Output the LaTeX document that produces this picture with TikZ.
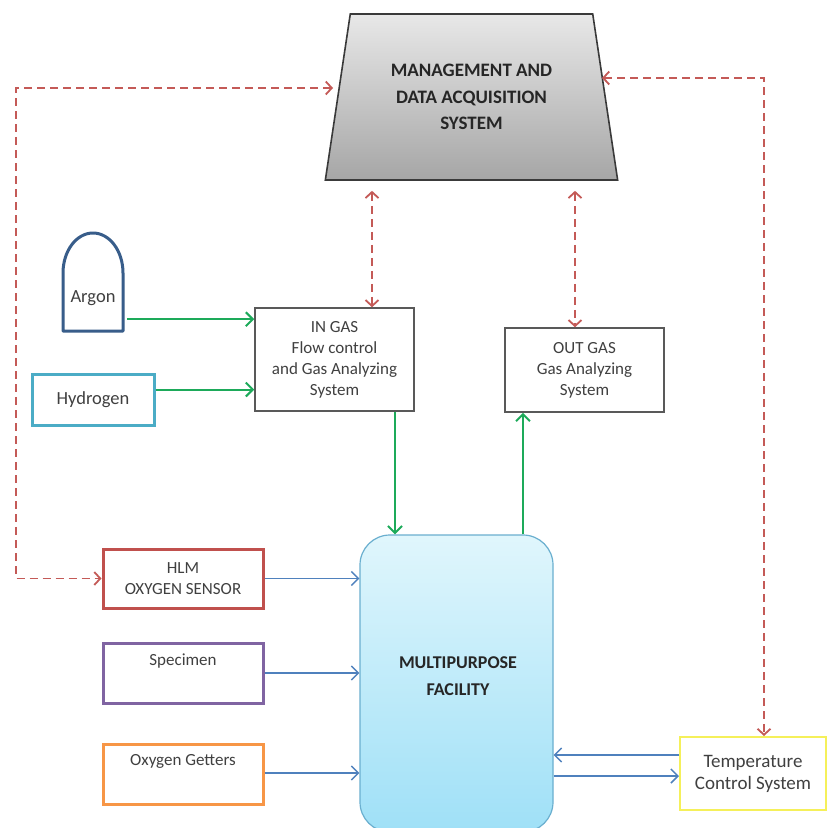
\documentclass[tikz,border=0pt]{standalone}
\usepackage{fontspec}
\setmainfont{Carlito}
\usetikzlibrary{shapes.geometric,arrows.meta,calc}
\definecolor{redd}{HTML}{C45A57}
\definecolor{greenc}{HTML}{1DAA5A}
\definecolor{bluec}{HTML}{4F81BD}
\definecolor{argonc}{HTML}{385D8A}
\definecolor{hydroc}{HTML}{4BACC6}
\definecolor{hlmc}{HTML}{C0504D}
\definecolor{specc}{HTML}{8064A2}
\definecolor{getc}{HTML}{F79646}
\definecolor{tempc}{HTML}{F5F05A}
\definecolor{boxc}{HTML}{595959}
\definecolor{txtc}{HTML}{404040}
\definecolor{trapc}{HTML}{3A3A3A}
\definecolor{trapt}{HTML}{E8E8E8}
\definecolor{trapb}{HTML}{A6A6A6}
\definecolor{facb}{HTML}{6AAFCF}
\definecolor{factop}{HTML}{E0F6FC}
\definecolor{facbot}{HTML}{9FE0F7}
\tikzset{
  txt/.style={text=txtc, font=\fontsize{17}{21}\selectfont, align=center},
  gasbox/.style={draw=boxc, line width=1.5pt, inner sep=0pt, txt, minimum width=159pt},
  colbox/.style={draw=#1, line width=3pt, inner sep=0pt, txt, minimum width=160pt, minimum height=59pt},
  rdash/.style={draw=redd, line width=1.8pt, dash pattern=on 8pt off 5pt,
    {Straight Barb[length=6pt,width=13pt]}-{Straight Barb[length=6pt,width=13pt]}},
  garrow/.style={draw=greenc, line width=2pt, -{Straight Barb[length=7pt,width=14pt]}},
  barrow/.style={draw=bluec, line width=1.5pt, -{Straight Barb[length=7pt,width=14pt]}},
}
\begin{document}
\begin{tikzpicture}[x=1pt,y=-1pt]
\fill[white] (0,0) rectangle (827,828);
\useasboundingbox (0,0) rectangle (827,828);

% management trapezoid
\node[trapezium, trapezium left angle=75.8, trapezium right angle=75.8,
  trapezium stretches=true, minimum width=293pt, minimum height=166pt,
  inner sep=0pt, draw=trapc, line width=1.6pt, top color=trapt, bottom color=trapb,
  font=\bfseries\fontsize{19}{26.5}\selectfont, text=black!85, align=center]
  (mgmt) at (471.5,97) {MANAGEMENT AND\\DATA ACQUISITION\\SYSTEM};

% argon dome
\node[inner sep=0pt, minimum width=60pt, minimum height=98pt] (argon) at (93,282) {};
\draw[draw=argonc, line width=3pt, line join=round]
  (63,331) -- (63,273) .. controls (63,250.9) and (76.4,233) .. (93,233)
  .. controls (109.6,233) and (123,250.9) .. (123,273) -- (123,331) -- cycle;
\node[txt, font=\fontsize{18.5}{21}\selectfont] (argontxt) at (93,298) {Argon};

% hydrogen
\node[draw=hydroc, line width=3pt, inner sep=0pt, minimum width=122pt, minimum height=51pt,
  txt, font=\fontsize{18.5}{21}\selectfont] (hyd) at (93,399.5) {Hydrogen};

% gas boxes
\node[gasbox, minimum height=103pt] (ingas) at (334.5,359.5)
  {IN GAS\\Flow control\\and Gas Analyzing\\System};
\node[gasbox, minimum height=84pt] (outgas) at (584.5,370)
  {OUT GAS\\Gas Analyzing\\System};

% left boxes
\node[colbox=hlmc] (hlm) at (183,578.5) {HLM\\OXYGEN SENSOR};
\node[colbox=specc, minimum height=60pt] (spec) at (183,673) {Specimen\\\strut};
\node[colbox=getc, minimum height=60pt] (get) at (183,774) {Oxygen Getters\\\strut};

% facility
\node[draw=facb, line width=1.2pt, rounded corners=30pt, top color=factop, bottom color=facbot,
  minimum width=193pt, minimum height=297pt, inner sep=0pt] (fac) at (456.5,683.5) {};
\node[font=\bfseries\fontsize{18}{27}\selectfont, text=black!85, align=center]
  (factxt) at (458,676.5) {MULTIPURPOSE\\FACILITY};

% temperature
\node[draw=tempc, line width=2pt, minimum width=146pt, minimum height=73pt, inner sep=0pt,
  txt, font=\fontsize{19}{22}\selectfont] (temp) at (753,773.5) {Temperature\\Control System};

% red dashed connectors
\coordinate (lc) at (16,88);
\coordinate (rc) at (764,78);
\draw[rdash] ($(mgmt.west)+(-4,-9)$) -- (lc) |- (hlm.west);
\draw[rdash] ($(mgmt.east)+(-4,-19)$) -- (rc) -- (rc |- temp.north);
\coordinate (a1) at ($(ingas.north)+(37.5,0)$);
\coordinate (a2) at ($(outgas.north)+(-9.5,0)$);
\draw[rdash] ($(mgmt.south -| a1)+(0,10)$) -- (a1);
\draw[rdash] ($(mgmt.south -| a2)+(0,10)$) -- (a2);

% green connectors
\draw[garrow] ($(argon.south east)+(4,-12)$) -- ($(argon.south east -| ingas.west)+(0,-12)$);
\draw[garrow] ($(hyd.east)+(0,-10)$) -- ($(hyd.east -| ingas.west)+(0,-10)$);
\coordinate (g1) at ($(ingas.south)+(60.5,0)$);
\coordinate (g2) at ($(outgas.south)+(-61.5,0)$);
\draw[garrow] (g1) -- (g1 |- fac.north);
\draw[garrow] (g2 |- fac.north) -- (g2);

% blue connectors
\draw[barrow] (hlm.east) -- (hlm.east -| fac.west);
\draw[barrow] (spec.east) -- (spec.east -| fac.west);
\draw[barrow] ($(get.east)+(0,-1)$) -- ($(get.east -| fac.west)+(0,-1)$);
\draw[barrow] ($(temp.west)+(0,-18.5)$) -- ($(temp.west -| fac.east)+(0,-18.5)$);
\draw[barrow] ($(temp.west -| fac.east)+(0,2.5)$) -- ($(temp.west)+(0,2.5)$);
\end{tikzpicture}
\end{document}
